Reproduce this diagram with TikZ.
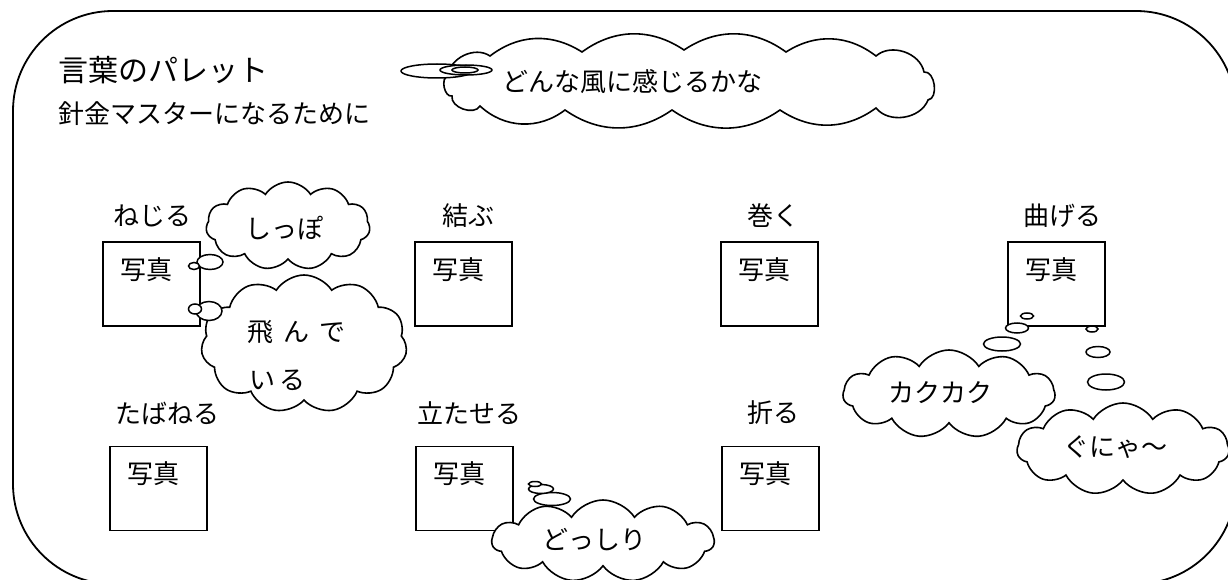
\documentclass[tikz,border=0pt]{standalone}
\usepackage{fontspec}
\setmainfont{Noto Sans CJK JP}
\usetikzlibrary{shapes.symbols,shapes.geometric}
\begin{document}
\begin{tikzpicture}[x=1pt,y=-1pt,
  lbl/.style={inner sep=0pt, anchor=west, font=\fontsize{26}{30}\selectfont},
  ttl/.style={inner sep=0pt, anchor=west, font=\fontsize{30}{34}\selectfont},
  photo/.style={draw, line width=1.6pt, minimum width=97pt, minimum height=84pt, inner sep=0pt},
  thought/.style={cloud, draw, fill=white, line width=1.6pt, cloud puffs=11, cloud puff arc=115, cloud ignores aspect, inner sep=0pt},
  cloudline/.style={draw, fill=white, line width=1.6pt},
  bub/.style={ellipse, draw, fill=white, line width=1.5pt, inner sep=0pt}]
\useasboundingbox (0,0) rectangle (1228,580);
\begin{scope}
\clip (0,0) rectangle (1228,580);
\draw[line width=1.8pt, rounded corners=100pt] (13,11) rectangle (1236,584);
\end{scope}

% titles
\node[ttl] (title) at (58,70) {言葉のパレット};
\node[lbl] (sub) at (58,114) {針金マスターになるために};

% row 1
\node[lbl] (l1) at (113,216) {ねじる};
\node[photo] (b1) at (151.5,284) {};
\node[lbl] (p1) at (120,270) {写真};
\node[lbl] (l2) at (442,216) {結ぶ};
\node[photo] (b2) at (463.5,284) {};
\node[lbl] (p2) at (432,270) {写真};
\node[lbl] (l3) at (747,216) {巻く};
\node[photo] (b3) at (769.5,284) {};
\node[lbl] (p3) at (738,270) {写真};
\node[lbl] (l4) at (1023,216) {曲げる};
\node[photo] (b4) at (1056.5,284) {};
\node[lbl] (p4) at (1025,270) {写真};

% row 2
\node[lbl] (l5) at (115,413) {たばねる};
\node[photo] (b5) at (158.5,488.5) {};
\node[lbl] (p5) at (127,474) {写真};
\node[lbl] (l6) at (417,413) {立たせる};
\node[photo] (b6) at (464.5,488.5) {};
\node[lbl] (p6) at (433,474) {写真};
\node[lbl] (l7) at (747,413) {折る};
\node[photo] (b7) at (770.5,488.5) {};
\node[lbl] (p7) at (739,474) {写真};

% top cloud (drawn directly)
\path[cloudline] (448,76) to[bend left=60] (490,56) to[bend left=35] (582,52)
  to[bend left=35] (684,50) to[bend left=35] (786,52) to[bend left=35] (876,56)
  to[bend left=60] (924,72) to[bend left=90] (928,100) to[bend left=60] (876,108)
  to[bend left=35] (780,110) to[bend left=35] (672,110) to[bend left=35] (565,110)
  to[bend left=40] (480,106) to[bend left=80] (452,96) to[bend left=90] cycle;
\node[bub, minimum width=72pt, minimum height=14pt] (e01) at (437,71) {};
\node[bub, minimum width=52pt, minimum height=10pt] (e02) at (466,70) {};
\node[bub, minimum width=26pt, minimum height=6pt] (e03) at (465,70) {};
\node[lbl] (t0) at (502,82) {どんな風に感じるかな};

% shippo
\node[thought, minimum width=164pt, minimum height=88pt] (c1) at (288,226) {};
\node[bub, minimum width=26pt, minimum height=15pt] (e12) at (210,262) {};
\node[bub, minimum width=11pt, minimum height=7pt] (e11) at (194,266) {};
\node[lbl] (t1) at (245,228) {しっぽ};

% tonde iru
\node[thought, minimum width=206pt, minimum height=138pt] (c2) at (304,344) {};
\node[bub, minimum width=26pt, minimum height=19pt] (e22) at (209,311) {};
\node[bub, minimum width=13pt, minimum height=10pt] (e21) at (195,309) {};
\node[lbl] (t2a) at (247,332) {飛\hspace{10pt}ん\hspace{10pt}で};
\node[lbl] (t2b) at (249,380) {い\hspace{4pt}る};

% dosshiri
\node[thought, minimum width=222pt, minimum height=82pt] (c3) at (603,541) {};
\node[bub, minimum width=37pt, minimum height=13pt] (e33) at (552,499) {};
\node[bub, minimum width=25pt, minimum height=9pt] (e32) at (541,489) {};
\node[bub, minimum width=13pt, minimum height=5pt] (e31) at (535,484) {};
\node[lbl] (t3) at (542,540) {どっしり};

% kakukaku
\node[thought, minimum width=212pt, minimum height=88pt] (c4) at (949,394) {};
\node[bub, minimum width=37pt, minimum height=14pt] (e43) at (1002,344) {};
\node[bub, minimum width=23pt, minimum height=10pt] (e42) at (1017,328) {};
\node[bub, minimum width=13pt, minimum height=6pt] (e41) at (1027,316) {};
\node[lbl] (t4) at (888,393) {カクカク};

% gunya
\node[thought, minimum width=212pt, minimum height=92pt] (c5) at (1123,449) {};
\node[bub, minimum width=37pt, minimum height=16pt] (e53) at (1106,382) {};
\node[bub, minimum width=24pt, minimum height=11pt] (e52) at (1098,352) {};
\node[bub, minimum width=12pt, minimum height=6pt] (e51) at (1092,329) {};
\node[lbl] (t5) at (1063,447) {ぐにゃ～};
\end{tikzpicture}
\end{document}
